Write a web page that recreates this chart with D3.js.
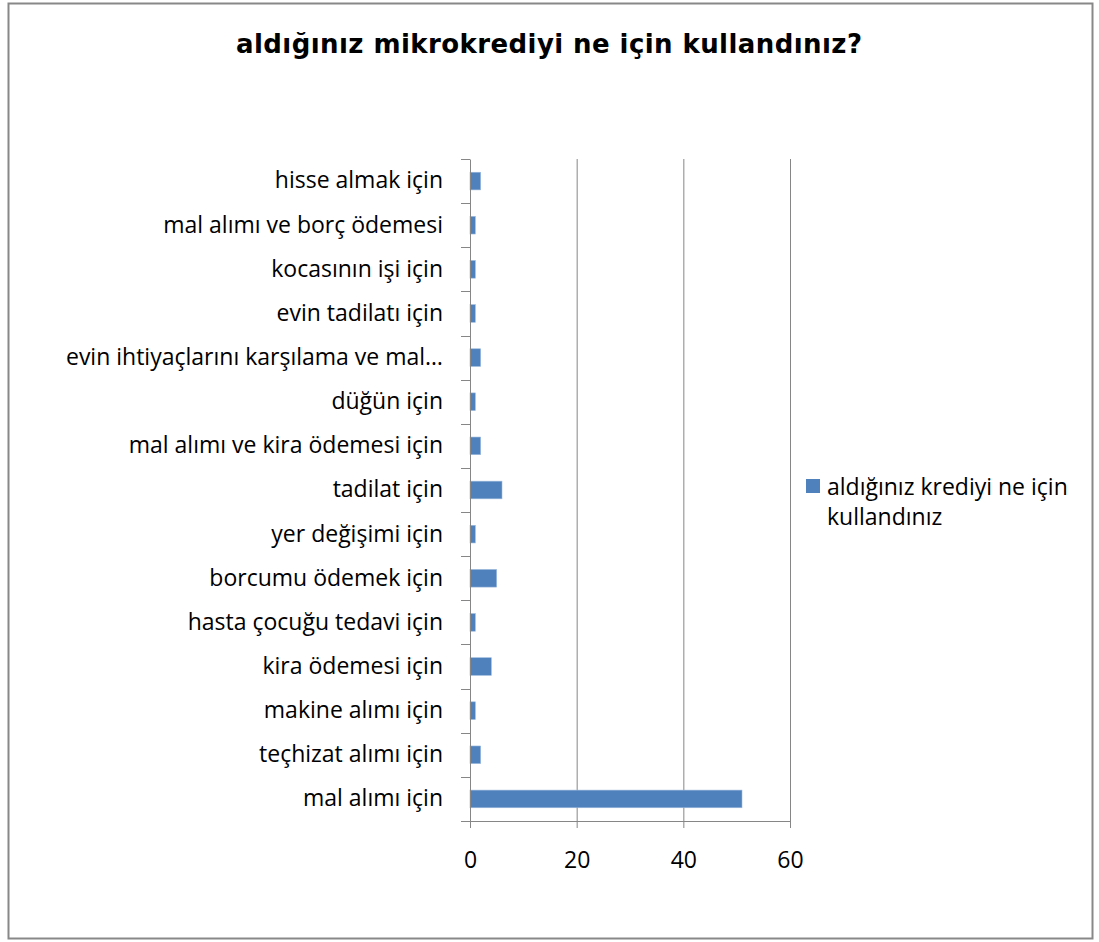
<!DOCTYPE html>
<html>
<head>
<meta charset="utf-8">
<script src="https://cdn.jsdelivr.net/npm/d3@7"></script>
<style>
  body { margin: 0; background: #fff; }
  svg { display: block; }
</style>
</head>
<body>
<div id="chart"></div>
<script>
// chart data (top to bottom)
var title = "aldığınız mikrokrediyi ne için kullandınız?";
var seriesName = ["aldığınız krediyi ne için", "kullandınız"];
var categories = [
  "hisse almak için",
  "mal alımı ve borç ödemesi",
  "kocasının işi için",
  "evin tadilatı için",
  "evin ihtiyaçlarını karşılama ve mal…",
  "düğün için",
  "mal alımı ve kira ödemesi için",
  "tadilat için",
  "yer değişimi için",
  "borcumu ödemek için ",
  "hasta çocuğu tedavi için",
  "kira ödemesi için",
  "makine alımı için",
  "teçhizat alımı için",
  "mal alımı için"
];
var values = [2, 1, 1, 1, 2, 1, 2, 6, 1, 5, 1, 4, 1, 2, 51];
var xTicks = [0, 20, 40, 60];

var W = 1099, H = 942;
var FONT = "'Open Sans', Lato, sans-serif";
var BAR = "#4F81BD";
var AXIS = "#868686";

var svg = d3.select("#chart").append("svg")
  .attr("width", W)
  .attr("height", H);

// outer chart frame
svg.append("rect")
  .attr("x", 8.5).attr("y", 3.5)
  .attr("width", 1084).attr("height", 935)
  .style("fill", "#fff")
  .style("stroke", "#888")
  .style("stroke-width", 2);

svg.append("text")
  .attr("x", 549)
  .attr("y", 53)
  .attr("text-anchor", "middle")
  .attr("textLength", 626)
  .attr("lengthAdjust", "spacing")
  .style("font-family", "'DejaVu Sans', 'Liberation Sans', sans-serif")
  .style("font-weight", "bold")
  .style("font-size", "26px")
  .text(title);

var plot = { left: 470, right: 790, top: 159, bottom: 821 };

var x = d3.scaleLinear()
  .domain([0, 60])
  .range([plot.left, plot.right]);

var y = d3.scaleBand()
  .domain(categories)
  .range([plot.top, plot.bottom])
  .paddingInner(0.6)
  .paddingOuter(0.3);

// vertical gridlines
svg.append("g")
  .selectAll("line")
  .data(xTicks.slice(1))
  .enter()
  .append("line")
  .attr("x1", function(d) { return x(d) + 0.5; })
  .attr("x2", function(d) { return x(d) + 0.5; })
  .attr("y1", plot.top)
  .attr("y2", plot.bottom)
  .style("stroke", AXIS)
  .style("stroke-width", 1);

// bars
svg.append("g")
  .selectAll("rect")
  .data(values)
  .enter()
  .append("rect")
  .attr("x", x(0))
  .attr("y", function(d, i) { return y(categories[i]); })
  .attr("width", function(d) { return x(d) - x(0); })
  .attr("height", y.bandwidth())
  .style("fill", BAR)
  .style("stroke", "#9cb9dc")
  .style("stroke-width", 0.6);

// x axis
var xAxis = svg.append("g")
  .attr("transform", "translate(0," + plot.bottom + ")")
  .call(d3.axisBottom(x).tickValues(xTicks).tickSize(7).tickPadding(24).tickSizeOuter(0));

// y axis, ticks on band boundaries
var yAxis = svg.append("g")
  .attr("transform", "translate(" + plot.left + ",0)")
  .call(d3.axisLeft(y).tickSize(0).tickPadding(27));

var bounds = d3.range(categories.length + 1).map(function(i) { return plot.top + i * (plot.bottom - plot.top) / categories.length; });
svg.append("g")
  .selectAll("line")
  .data(bounds)
  .enter()
  .append("line")
  .attr("x1", plot.left - 9)
  .attr("x2", plot.left)
  .attr("y1", function(d) { return Math.round(d) + 0.5; })
  .attr("y2", function(d) { return Math.round(d) + 0.5; })
  .style("stroke", AXIS);

[xAxis, yAxis].forEach(function(g) {
  g.select(".domain").style("stroke", AXIS);
  g.selectAll(".tick line").style("stroke", AXIS);
  g.selectAll("text")
    .style("font-family", FONT)
    .style("font-size", "23px")
    .style("fill", "#000");
});

// legend
var legend = svg.append("g").attr("transform", "translate(806,479)");
legend.append("rect")
  .attr("width", 14).attr("height", 14)
  .style("fill", BAR);
legend.selectAll("text")
  .data(seriesName)
  .enter()
  .append("text")
  .attr("x", 21)
  .attr("y", function(d, i) { return 16 + i * 30; })
  .style("font-family", FONT)
  .style("font-size", "23px")
  .text(function(d) { return d; });
</script>
</body>
</html>
